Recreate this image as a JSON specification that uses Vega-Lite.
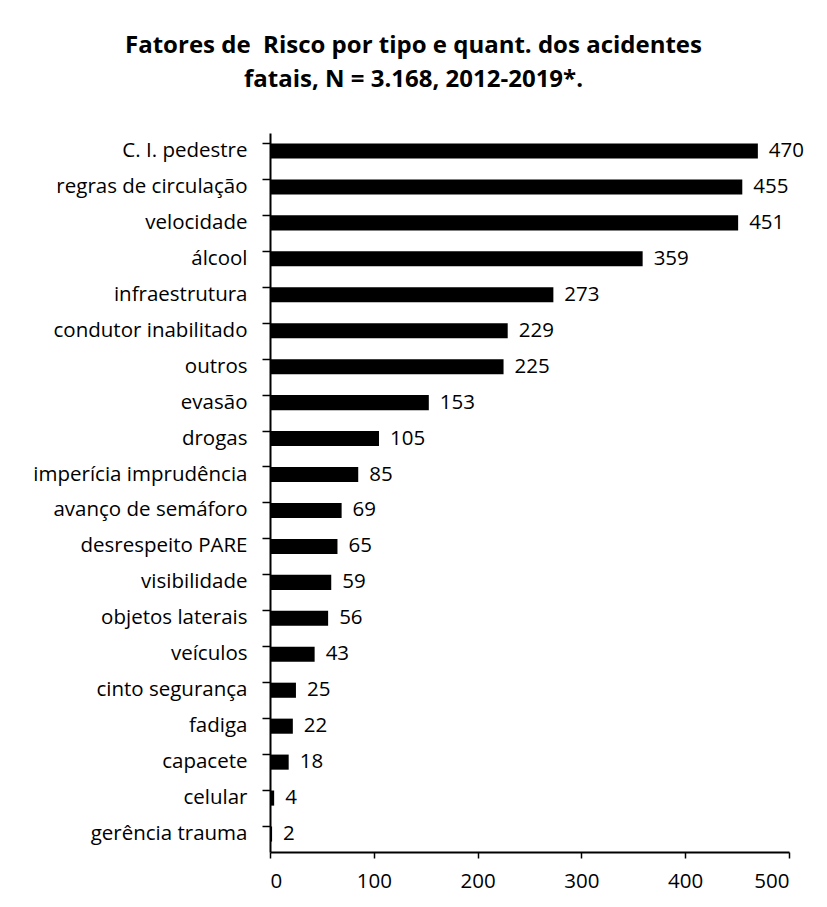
{
  "$schema": "https://vega.github.io/schema/vega-lite/v6.json",
  "width": 519,
  "height": 719,
  "autosize": {"type": "none"},
  "padding": {"left": 270, "top": 133, "right": 38, "bottom": 55},
  "background": "white",
  "title": {
    "text": ["Fatores de\u00a0 Risco por tipo e quant. dos acidentes", "fatais, N = 3.168, 2012-2019*."],
    "font": "Open Sans",
    "fontSize": 24,
    "fontWeight": "bold",
    "color": "black",
    "anchor": "middle",
    "dx": -116,
    "offset": 41,
    "lineHeight": 34
  },
  "data": {
    "values": [
      {"fator": "C. I. pedestre", "valor": 470},
      {"fator": "regras de circulação", "valor": 455},
      {"fator": "velocidade", "valor": 451},
      {"fator": "álcool", "valor": 359},
      {"fator": "infraestrutura", "valor": 273},
      {"fator": "condutor inabilitado", "valor": 229},
      {"fator": "outros", "valor": 225},
      {"fator": "evasão", "valor": 153},
      {"fator": "drogas", "valor": 105},
      {"fator": "imperícia imprudência", "valor": 85},
      {"fator": "avanço de semáforo", "valor": 69},
      {"fator": "desrespeito PARE", "valor": 65},
      {"fator": "visibilidade", "valor": 59},
      {"fator": "objetos laterais", "valor": 56},
      {"fator": "veículos", "valor": 43},
      {"fator": "cinto segurança", "valor": 25},
      {"fator": "fadiga", "valor": 22},
      {"fator": "capacete\u00a0", "valor": 18},
      {"fator": "celular", "valor": 4},
      {"fator": "gerência trauma", "valor": 2}
    ]
  },
  "encoding": {
    "y": {
      "field": "fator",
      "type": "nominal",
      "sort": null,
      "scale": {"paddingInner": 0.58, "paddingOuter": 0.29},
      "axis": {
        "title": null,
        "domainColor": "black",
        "domainWidth": 2,
        "tickColor": "black",
        "tickSize": 8,
        "tickWidth": 1.5,
        "bandPosition": 0,
        "labelFont": "Open Sans",
        "labelFontSize": 20.5,
        "labelColor": "black",
        "labelPadding": 15,
        "labelLimit": 300
      }
    },
    "x": {
      "field": "valor",
      "type": "quantitative",
      "scale": {"domain": [0, 500]},
      "axis": {
        "title": null,
        "values": [0, 100, 200, 300, 400, 500],
        "format": "d",
        "grid": false,
        "domainColor": "black",
        "domainWidth": 2,
        "tickColor": "black",
        "tickSize": 6,
        "tickWidth": 1.5,
        "labelFont": "Open Sans",
        "labelFontSize": 20.5,
        "labelColor": "black",
        "labelPadding": 13
      }
    }
  },
  "layer": [
    {"mark": {"type": "bar", "color": "black"}},
    {
      "mark": {"type": "text", "align": "left", "baseline": "middle", "dx": 11, "font": "Open Sans", "fontSize": 20.5, "color": "black"},
      "encoding": {"text": {"field": "valor", "type": "quantitative"}}
    }
  ],
  "config": {"view": {"stroke": null}}
}
